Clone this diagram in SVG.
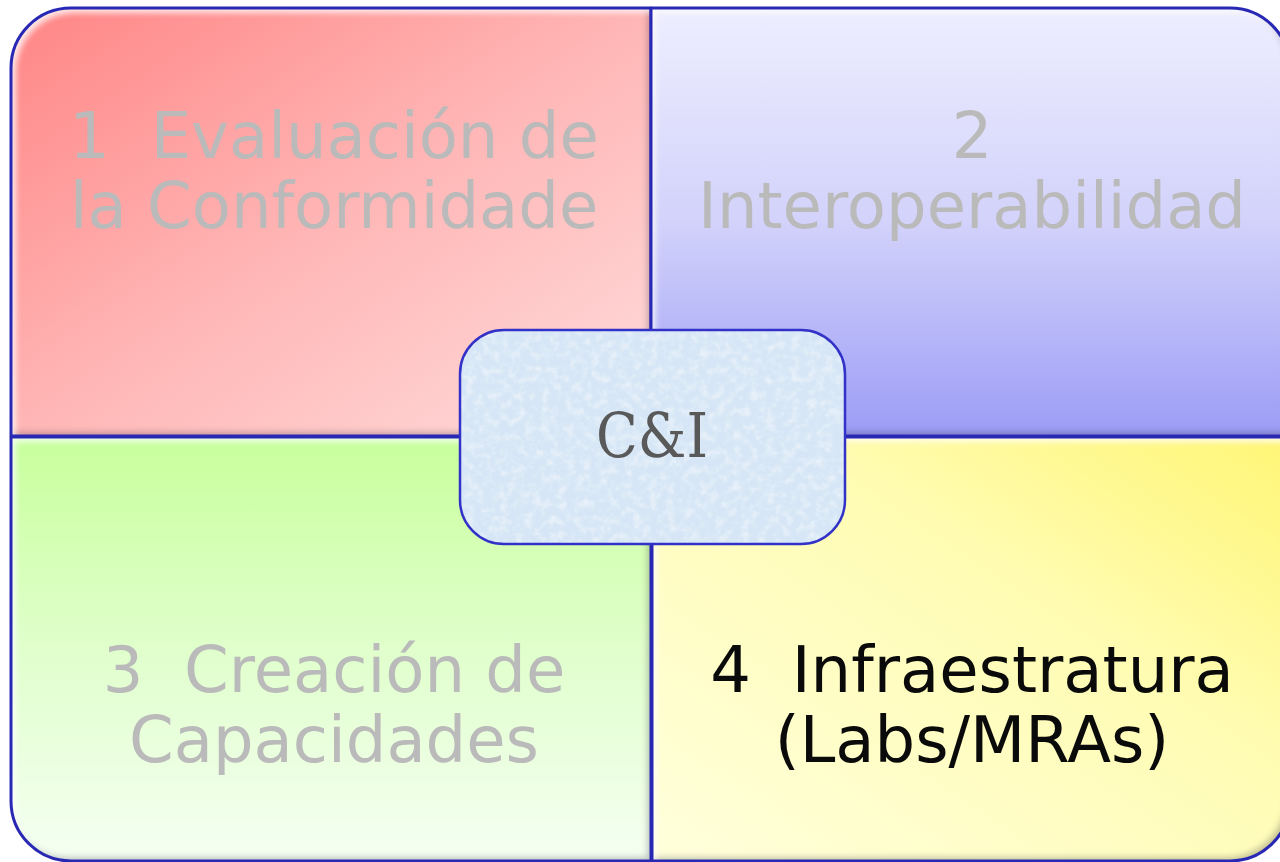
<svg xmlns="http://www.w3.org/2000/svg" width="1280" height="862" viewBox="0 0 1280 862">
<style>
  .lbl { font-family: "DejaVu Sans", Verdana, sans-serif; font-size: 64px; text-anchor: middle; white-space: pre; }
  .grey { fill: #bababa; }
  .dark { fill: #0a0a0a; }
  .edge { fill: none; stroke: #2828b4; stroke-width: 3; stroke-linejoin: round; }
  .center-t { font-family: "DejaVu Serif", "Liberation Serif", serif; font-size: 62px; fill: #595959; text-anchor: middle; }
</style>
<defs>
  <linearGradient id="gRed" x1="0" y1="0" x2="1" y2="1">
    <stop offset="0" stop-color="#ff8585"/>
    <stop offset="0.5" stop-color="#ffb6b6"/>
    <stop offset="1" stop-color="#ffdcdc"/>
  </linearGradient>
  <linearGradient id="gBlue" x1="0" y1="0" x2="0" y2="1">
    <stop offset="0" stop-color="#eeeeff"/>
    <stop offset="0.5" stop-color="#d2d2fb"/>
    <stop offset="1" stop-color="#9c9cf6"/>
  </linearGradient>
  <linearGradient id="gGreen" x1="0" y1="0" x2="0" y2="1">
    <stop offset="0" stop-color="#c8ff9c"/>
    <stop offset="0.5" stop-color="#e0ffcc"/>
    <stop offset="1" stop-color="#f5fff2"/>
  </linearGradient>
  <linearGradient id="gYellow" x1="0" y1="1" x2="1" y2="0">
    <stop offset="0" stop-color="#ffffdc"/>
    <stop offset="0.6" stop-color="#fffcb4"/>
    <stop offset="1" stop-color="#fff675"/>
  </linearGradient>
  <filter id="bevel" x="-5%" y="-5%" width="110%" height="110%">
    <feComponentTransfer in="SourceAlpha" result="inv"><feFuncA type="table" tableValues="1 0"/></feComponentTransfer>
    <feGaussianBlur in="inv" stdDeviation="3" result="blur"/>
    <feOffset in="blur" dx="-4" dy="-4" result="offS"/>
    <feFlood flood-color="#101040" flood-opacity="0.45"/>
    <feComposite in2="offS" operator="in" result="sh"/>
    <feComposite in="sh" in2="SourceAlpha" operator="in" result="shIn"/>
    <feOffset in="blur" dx="4" dy="4" result="offH"/>
    <feFlood flood-color="#ffffff" flood-opacity="0.8"/>
    <feComposite in2="offH" operator="in" result="hl"/>
    <feComposite in="hl" in2="SourceAlpha" operator="in" result="hlIn"/>
    <feMerge><feMergeNode in="SourceGraphic"/><feMergeNode in="shIn"/><feMergeNode in="hlIn"/></feMerge>
  </filter>
  <filter id="tex" x="0" y="0" width="1" height="1">
    <feTurbulence type="fractalNoise" baseFrequency="0.12" numOctaves="4" seed="5" result="n"/>
    <feColorMatrix in="n" type="matrix" values="0 0 0 0 1  0 0 0 0 1  0 0 0 0 1  1.0 0 0 0 -0.42" result="w"/>
    <feComposite in="w" in2="SourceAlpha" operator="in" result="wi"/>
    <feMerge><feMergeNode in="SourceGraphic"/><feMergeNode in="wi"/></feMerge>
  </filter>
</defs>
<rect width="1280" height="862" fill="#ffffff"/>

<g id="q1">
  <path d="M11,436 V68 A60,60 0 0 1 71,8 H651 V436 Z" fill="url(#gRed)" filter="url(#bevel)"/>
  <path class="edge" d="M11,436 V68 A60,60 0 0 1 71,8 H651 V436 Z"/>
  <text class="lbl grey" x="334" y="158">1  Evaluación de</text>
  <text class="lbl grey" x="334" y="228">la Conformidade</text>
</g>

<g id="q2">
  <path d="M651,8 H1230 A60,60 0 0 1 1290,68 V436 H651 Z" fill="url(#gBlue)" filter="url(#bevel)"/>
  <path class="edge" d="M651,8 H1230 A60,60 0 0 1 1290,68 V436 H651 Z"/>
  <text class="lbl grey" x="972" y="158">2</text>
  <text class="lbl grey" x="972" y="228">Interoperabilidad</text>
</g>

<g id="q3">
  <path d="M11,437 H651 V861 H71 A60,60 0 0 1 11,801 Z" fill="url(#gGreen)" filter="url(#bevel)"/>
  <path class="edge" d="M11,437 H651 V861 H71 A60,60 0 0 1 11,801 Z"/>
  <text class="lbl grey" x="334" y="692">3  Creación de</text>
  <text class="lbl grey" x="334" y="762">Capacidades</text>
</g>

<g id="q4">
  <path d="M652,437 H1290 V801 A60,60 0 0 1 1230,861 H652 Z" fill="url(#gYellow)" filter="url(#bevel)"/>
  <path class="edge" d="M652,437 H1290 V801 A60,60 0 0 1 1230,861 H652 Z"/>
  <text class="lbl dark" x="972" y="692">4  Infraestratura</text>
  <text class="lbl dark" x="972" y="762">(Labs/MRAs)</text>
</g>

<g id="connectors"></g>

<g id="center">
  <rect x="460" y="330" width="385" height="214" rx="44" ry="44" fill="#d6e6f6" filter="url(#tex)"/>
  <rect x="460" y="330" width="385" height="214" rx="44" ry="44" fill="none" stroke="#3232c8" stroke-width="2.5"/>
  <text class="center-t" x="652" y="457" textLength="112" lengthAdjust="spacingAndGlyphs">C&amp;I</text>
</g>
</svg>
